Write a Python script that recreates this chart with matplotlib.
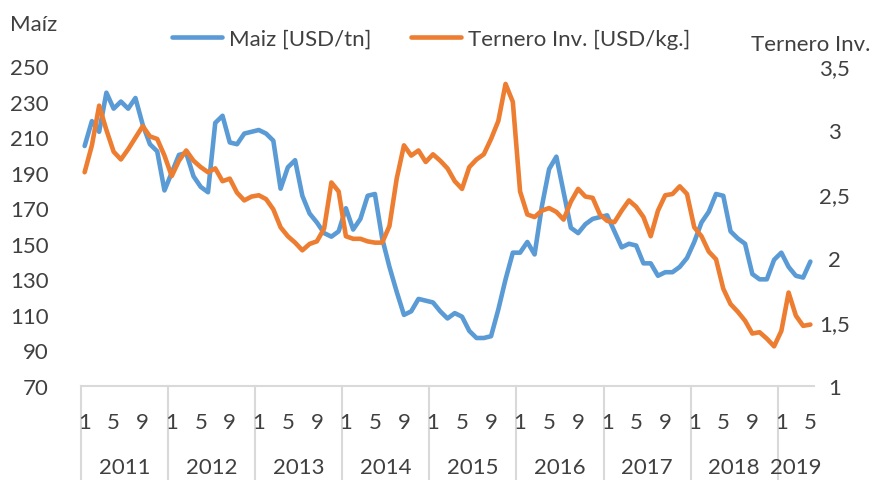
import matplotlib
matplotlib.use("Agg")
import matplotlib.pyplot as plt
import matplotlib.transforms as mtransforms

# ---------------- data ----------------
years = [2011, 2012, 2013, 2014, 2015, 2016, 2017, 2018, 2019]
months_per_year = [12, 12, 12, 12, 12, 12, 12, 12, 5]
month_ticks = [1, 5, 9]

maiz = [
    205, 219, 213, 235, 226, 230, 226, 232, 217, 206, 202, 180,   # 2011
    190, 200, 201, 188, 182, 179, 218, 222, 207, 206, 212, 213,   # 2012
    214, 212, 208, 181, 193, 197, 177, 167, 162, 156, 154, 157,   # 2013
    170, 158, 164, 177, 178, 153, 137, 123, 110, 112, 119, 118,   # 2014
    117, 112, 108, 111, 109, 101, 97, 97, 98, 113, 130, 145,      # 2015
    145, 151, 144, 171, 192, 199, 179, 159, 156, 161, 164, 165,   # 2016
    166, 157, 148, 150, 149, 139, 139, 132, 134, 134, 137, 142,   # 2017
    151, 162, 168, 178, 177, 157, 153, 150, 133, 130, 130, 141,   # 2018
    145, 137, 132, 131, 140,                                      # 2019
]

ternero = [
    2.67, 2.88, 3.19, 3.00, 2.83, 2.77, 2.85, 2.94, 3.03, 2.95, 2.93, 2.80,  # 2011
    2.64, 2.76, 2.84, 2.76, 2.71, 2.67, 2.70, 2.60, 2.62, 2.51, 2.45, 2.48,  # 2012
    2.49, 2.46, 2.38, 2.24, 2.17, 2.12, 2.06, 2.11, 2.13, 2.23, 2.59, 2.52,  # 2013
    2.17, 2.15, 2.15, 2.13, 2.12, 2.12, 2.25, 2.62, 2.88, 2.80, 2.84, 2.75,  # 2014
    2.81, 2.76, 2.70, 2.60, 2.54, 2.71, 2.77, 2.81, 2.93, 3.07, 3.36, 3.22,  # 2015
    2.52, 2.34, 2.32, 2.37, 2.39, 2.36, 2.30, 2.44, 2.54, 2.48, 2.47, 2.34,  # 2016
    2.29, 2.28, 2.37, 2.45, 2.40, 2.32, 2.17, 2.37, 2.49, 2.50, 2.56, 2.50,  # 2017
    2.24, 2.17, 2.05, 1.99, 1.76, 1.64, 1.58, 1.51, 1.41, 1.42, 1.37, 1.31,  # 2018
    1.43, 1.73, 1.55, 1.47, 1.48,                                            # 2019
]

left_ticks = [70, 90, 110, 130, 150, 170, 190, 210, 230, 250]
right_ticks = [1.0, 1.5, 2.0, 2.5, 3.0, 3.5]
right_tick_labels = ["1", "1,5", "2", "2,5", "3", "3,5"]

series_names = ["Maiz [USD/tn]", "Ternero Inv. [USD/kg.]"]
left_title = "Maíz"
right_title = "Ternero Inv."

# ---------------- style ----------------
BLUE = "#5B9BD5"
ORANGE = "#ED7D31"
GRID = "#D9D9D9"
TXT = "#404040"
FS = 16

plt.rcParams["font.family"] = ["Lato", "DejaVu Sans"]

W, H = 876, 481
fig = plt.figure(figsize=(W / 100, H / 100), dpi=100)
L, R, T, B = 81, 814, 67, 387
ax = fig.add_axes([L / W, 1 - B / H, (R - L) / W, (B - T) / H])
ax2 = ax.twinx()

xs = list(range(len(maiz)))
l1, = ax.plot(xs, maiz, color=BLUE, lw=3.3, solid_joinstyle="round",
              solid_capstyle="round", label=series_names[0])
l2, = ax2.plot(xs, ternero, color=ORANGE, lw=3.3, solid_joinstyle="round",
               solid_capstyle="round", label=series_names[1])

ax.set_xlim(-0.5, len(maiz) - 0.5)
ax.set_ylim(left_ticks[0], left_ticks[-1])
ax2.set_ylim(right_ticks[0], right_ticks[-1])

ax.set_yticks(left_ticks)
ax.set_yticklabels([str(v) for v in left_ticks])
ax2.set_yticks(right_ticks)
ax2.set_yticklabels(right_tick_labels)
ax.set_xticks([])

ax.tick_params(axis="y", length=0, pad=23, labelsize=FS, labelcolor=TXT)
ax2.tick_params(axis="y", length=0, pad=15, labelsize=FS, labelcolor=TXT)
for lab in ax2.get_yticklabels():
    lab.set_horizontalalignment("center")

for sp in ["top", "left", "right"]:
    ax.spines[sp].set_visible(False)
for sp in ax2.spines.values():
    sp.set_visible(False)
ax.spines["bottom"].set_color(GRID)
ax.spines["bottom"].set_linewidth(1.5)

# category axis: month labels, year labels and separators
trans = mtransforms.blended_transform_factory(ax.transData, ax.transAxes)
start = 0
sep_bottom = (B - H) / (B - T)
for yr, n in zip(years, months_per_year):
    ax.plot([start - 0.5, start - 0.5], [0, sep_bottom], transform=trans,
            color=GRID, lw=1.5, clip_on=False)
    for m in month_ticks:
        if m <= n:
            ax.text(start + m - 1, -36 / (B - T), str(m), transform=trans,
                    ha="center", va="center", fontsize=FS, color=TXT)
    ax.text(start + (n - 1) / 2, -81 / (B - T), str(yr), transform=trans,
            ha="center", va="center", fontsize=FS, color=TXT)
    start += n

# axis titles
fig.text(10 / W, 1 - 25 / H, left_title, ha="left", va="center",
         fontsize=FS, color=TXT)
fig.text(870 / W, 1 - 45 / H, right_title, ha="right", va="center",
         fontsize=FS, color=TXT)

# legend
fs_px = FS * 100 / 72
fig.legend(handles=[l1, l2], labels=series_names, ncol=2, frameon=False,
           loc="center left", bbox_to_anchor=(172 / W, 1 - 40 / H),
           borderpad=0, borderaxespad=0, handlelength=50 / fs_px,
           handletextpad=7 / fs_px, columnspacing=40 / fs_px,
           fontsize=FS, labelcolor=TXT)

fig.savefig("out.png", dpi=100)
